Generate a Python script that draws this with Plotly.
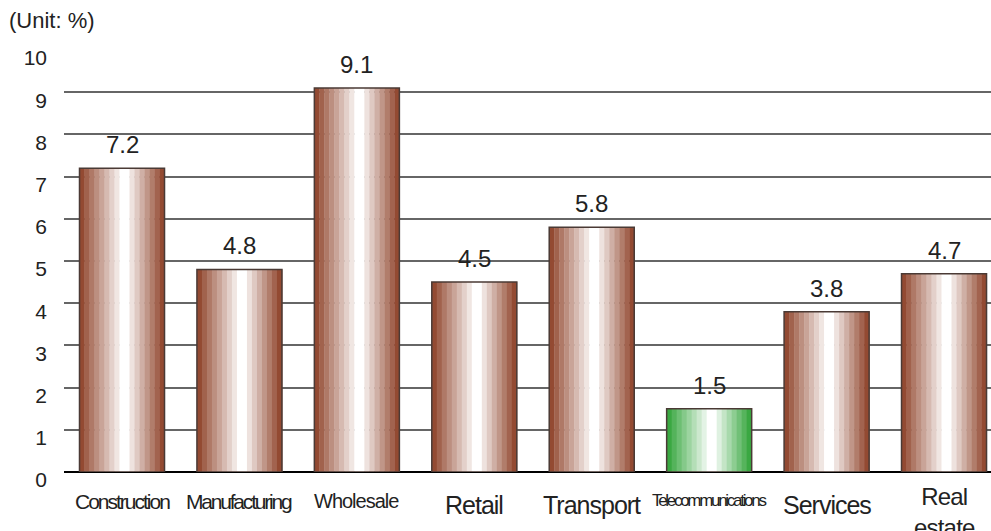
import plotly.graph_objects as go

# ---- data ----
categories = ["Construction", "Manufacturing", "Wholesale", "Retail",
              "Transport", "Telecommunications", "Services", "Real estate"]
values = [7.2, 4.8, 9.1, 4.5, 5.8, 1.5, 3.8, 4.7]
tick_labels = ["Construction", "Manufacturing", "Wholesale", "Retail",
               "Transport", "Telecommunications", "Services", "Real<br>estate"]
highlight = "Telecommunications"
y_ticks = list(range(0, 11))

# ---- style ----
# (font size, letter spacing, vertical centre offset below the axis in px)
label_styles = {
    "Construction": (21, -2.0, 29),
    "Manufacturing": (21, -2.2, 29),
    "Wholesale": (20, -1.0, 29),
    "Retail": (25, -1.0, 33),
    "Transport": (25, -1.0, 33),
    "Telecommunications": (17, -2.3, 28),
    "Services": (25, -1.0, 33),
    "Real estate": (24, -0.8, 40),
}

BROWN = (147, 74, 50)
GREEN = (58, 168, 66)
WHITE = (255, 255, 255)
bar_width = 0.724
stripes = [(1, t) for t in [0, 0.13, 0.26, 0.38, 0.5, 0.62, 0.74, 0.86]] + [(2, 1.0)] + \
          [(1, t) for t in [0.84, 0.7, 0.56, 0.42, 0.28, 0.14, 0]]
total_units = sum(s[0] for s in stripes)
unit = bar_width / total_units


def mix(c, t):
    return "rgb(%d,%d,%d)" % tuple(round(a + (b - a) * t) for a, b in zip(c, WHITE))


fig = go.Figure()
cum = 0
for w, t in stripes:
    colors = [mix(GREEN if c == highlight else BROWN, t) for c in categories]
    fig.add_trace(go.Bar(
        x=categories, y=values,
        width=[unit * w + 0.003] * len(categories),
        offset=[-bar_width / 2 + cum * unit] * len(categories),
        marker=dict(color=colors, line=dict(width=0)),
        hoverinfo="skip", showlegend=False,
    ))
    cum += w

# outline
fig.add_trace(go.Bar(
    x=categories, y=values,
    width=[bar_width] * len(categories),
    offset=[-bar_width / 2] * len(categories),
    marker=dict(color="rgba(0,0,0,0)", line=dict(color="#4a3a35", width=1.5)),
    showlegend=False,
))

# value labels
for c, v in zip(categories, values):
    fig.add_annotation(x=c, y=v, text=f"{v:.1f}", showarrow=False,
                       yanchor="bottom", yshift=8,
                       font=dict(size=24, color="#222222"))

# category labels
for c, t in zip(categories, tick_labels):
    size, ls, off = label_styles[c]
    fig.add_annotation(x=c, xref="x", yref="paper", y=0, yanchor="middle",
                       yshift=-off, showarrow=False,
                       text=f'<span style="letter-spacing:{ls}px">{t}</span>',
                       font=dict(size=size, color="#222222"))

fig.add_annotation(xref="paper", yref="paper", x=-57 / 927, y=1 + 30 / 422,
                   xanchor="left", yanchor="middle", text="(Unit: %)",
                   showarrow=False, font=dict(size=22, color="#222222"))

fig.update_layout(
    width=991, height=531,
    margin=dict(l=64, r=0, t=50, b=59),
    barmode="overlay",
    plot_bgcolor="white", paper_bgcolor="white",
    font=dict(family="Liberation Sans, Arial, sans-serif", color="#222222"),
    xaxis=dict(
        range=[-0.494, 7.40], automargin=False,
        showticklabels=False,
        showgrid=False, showline=False, ticks="",
    ),
    yaxis=dict(
        range=[0, 10], tickmode="array", tickvals=y_ticks, automargin=False,
        tickfont=dict(size=21, color="#222222"),
        showgrid=True, gridcolor="#666666", gridwidth=1.5,
        zeroline=True, zerolinecolor="#000000", zerolinewidth=1.5,
        showline=False, ticks="", ticklabelstandoff=16, ticklabelshift=8,
    ),
)

fig.write_html("out.html", config={"displayModeBar": False},
               post_script="document.body.style.margin='0';document.body.style.overflow='hidden';")
